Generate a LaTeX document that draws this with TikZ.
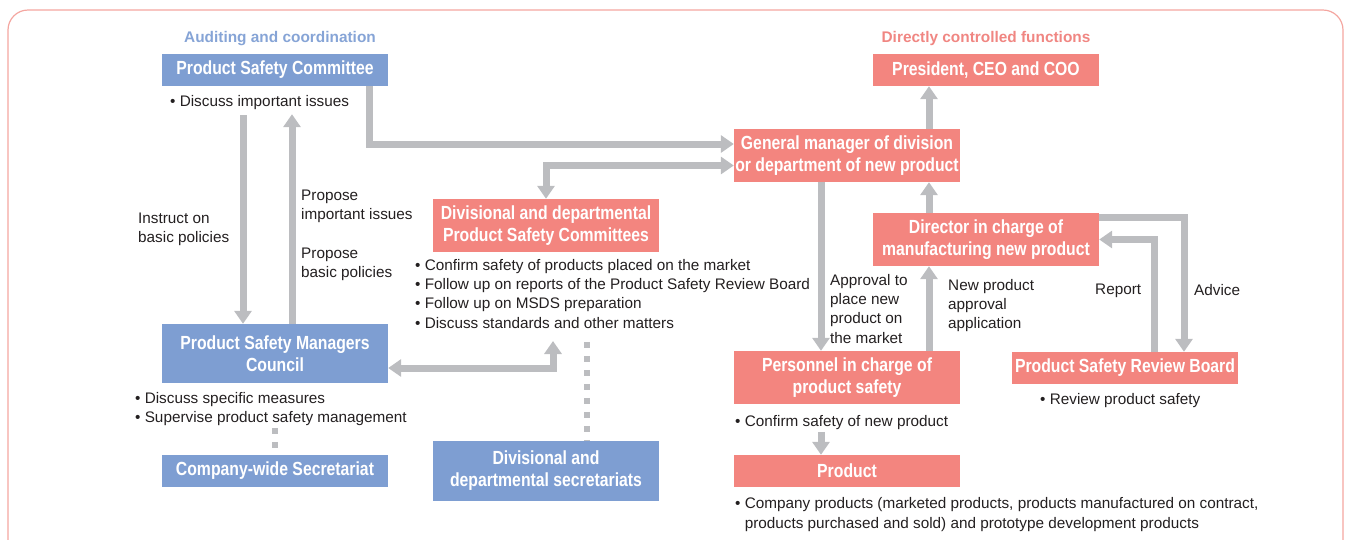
\documentclass[tikz,border=0pt]{standalone}
\usepackage{fontspec}
\setmainfont{Liberation Sans}
\newfontfamily\boxfont{Liberation Sans}[FakeStretch=0.83]
\usepackage{xcolor}
\usetikzlibrary{arrows.meta, positioning}

\definecolor{psblue}{HTML}{7E9ED2}
\definecolor{psred}{HTML}{F3857F}
\definecolor{psgray}{HTML}{BCBDC0}
\definecolor{psframe}{HTML}{F4A6A0}
\definecolor{pslabelblue}{HTML}{86A4D6}
\definecolor{pslabelred}{HTML}{F08682}
\definecolor{psink}{HTML}{231F20}

\begin{document}
\begin{tikzpicture}[
            x=1pt, y=-1pt,
            % Estilos de las cajas y flechas
            bluebox/.style={rectangle, fill=psblue, text=white, minimum width=226pt, inner sep=0pt, align=center, font=\boxfont\bfseries\fontsize{19}{22}\selectfont},
            redbox/.style={bluebox, fill=psred},
            note/.style={anchor=north west, inner sep=0pt, align=left, text=psink, font=\fontsize{15.3}{19.3}\selectfont},
            grouplabel/.style={inner sep=0pt, font=\bfseries\fontsize{15.4}{18}\selectfont},
            arrow/.style={draw=psgray, line width=7pt, -{Triangle[width=17pt, length=13pt]}},
            dblarrow/.style={arrow, {Triangle[width=17pt, length=13pt]}-{Triangle[width=17pt, length=13pt]}},
            dots/.style={draw=psgray, line width=6.5pt, dash pattern=on 6pt off 8pt}
            ]
            \useasboundingbox (0,0) rectangle (1345,539);
            \clip (0,0) rectangle (1345,539);

            % Marco
            \draw[psframe, line width=1.2pt, rounded corners=20pt] (8,580) -- (8,10) -- (1343,10) -- (1343,580);

            % Títulos de grupo
            \node[grouplabel, text=pslabelblue] (audit) at (280,39) {Auditing and coordination};
            \node[grouplabel, text=pslabelred] (direct) at (986,39) {Directly controlled functions};

            % Nodos
            \node (psc) [bluebox, minimum height=32pt] at (275,70) {Product Safety Committee};
            \node (pres) [redbox, minimum height=32pt] at (986,70) {President, CEO and COO};
            \node (gm) [redbox, minimum height=53pt] at (847,155.5) {General manager of division\\or department of new product};
            \node (divpsc) [redbox, minimum height=53pt] at (546,225.5) {Divisional and departmental\\Product Safety Committees};
            \node (dir) [redbox, minimum height=53pt] at (986,239.5) {Director in charge of\\manufacturing new product};
            \node (psmc) [bluebox, minimum height=59pt] at (275,353.5) {Product Safety Managers\\Council};
            \node (pers) [redbox, minimum height=53pt] at (847,377.5) {Personnel in charge of\\product safety};
            \node (psrb) [redbox, minimum height=32pt] at (1125,368) {Product Safety Review Board};
            \node (prod) [redbox, minimum height=32pt] at (847,471) {Product};
            \node (cws) [bluebox, minimum height=32pt] at (275,471) {Company-wide Secretariat};
            \node (divsec) [bluebox, minimum height=60pt] at (546,471) {Divisional and\\departmental secretariats};

            % Textos de las cajas
            \node (pscnote) [note] at (170,95) {• Discuss important issues};
            \node (divpscnote) [note] at (415,259) {• Confirm safety of products placed on the market\\• Follow up on reports of the Product Safety Review Board\\• Follow up on MSDS preparation\\• Discuss standards and other matters};
            \node (psmcnote) [note] at (135,392) {• Discuss specific measures\\• Supervise product safety management};
            \node (persnote) [note] at (735,415) {• Confirm safety of new product};
            \node (psrbnote) [note] at (1040,393) {• Review product safety};
            \node (prodnote) [note] at (735,497.5) {• Company products (marketed products, products manufactured on contract,\\\hphantom{• }products purchased and sold) and prototype development products};

            % Etiquetas de las flechas
            \node (instruct) [note] at (138,212.5) {Instruct on\\basic policies};
            \node (proposeimp) [note] at (301,189.5) {Propose\\important issues};
            \node (proposebas) [note] at (301,247.5) {Propose\\basic policies};
            \node (approval) [note] at (830,274) {Approval to\\place new\\product on\\the market};
            \node (newprod) [note] at (948,279) {New product\\approval\\application};
            \node (report) [note] at (1095,284) {Report};
            \node (advice) [note] at (1194,284) {Advice};

            % Conexiones
            \coordinate (divpscend) at (553,341);
            \draw [arrow] ([xshift=-32pt,yshift=-29pt]psc.south) -- ([xshift=-32pt]psmc.north);
            \draw [arrow] ([xshift=17pt]psmc.north) -- ([xshift=17pt,yshift=-28pt]psc.south);
            \draw [arrow] ([xshift=94pt]psc.south) |- ([yshift=11.5pt]gm.west);
            \draw [dblarrow] ([yshift=-10pt]gm.west) -| (divpsc.north);
            \draw [dblarrow] ([yshift=-14.5pt]psmc.east) -| (divpscend);
            \draw [dots] ([yshift=27pt]cws.north) -- ([yshift=7pt]cws.north);
            \draw [dots] ([xshift=41pt,yshift=99pt]divsec.north) -- ([xshift=41pt]divsec.north);

            \draw [arrow] ([xshift=-57pt]pres.south |- gm.north) -- ([xshift=-57pt]pres.south);
            \draw [arrow] ([xshift=-57pt]dir.north) -- ([xshift=-57pt]dir.north |- gm.south);
            \draw [arrow] ([xshift=-26pt]gm.south) -- ([xshift=-26pt]pers.north);
            \draw [arrow] ([xshift=82pt]pers.north) -- ([xshift=82pt]pers.north |- dir.south);
            \draw [arrow] ([xshift=-26pt,yshift=23pt]prod.north) -- ([xshift=-26pt]prod.north);
            \draw [arrow] ([yshift=-4.5pt]dir.north east) -| ([xshift=59pt]psrb.north);
            \draw [arrow] ([xshift=29pt]psrb.north) |- (dir.east);

        \end{tikzpicture}
\end{document}
